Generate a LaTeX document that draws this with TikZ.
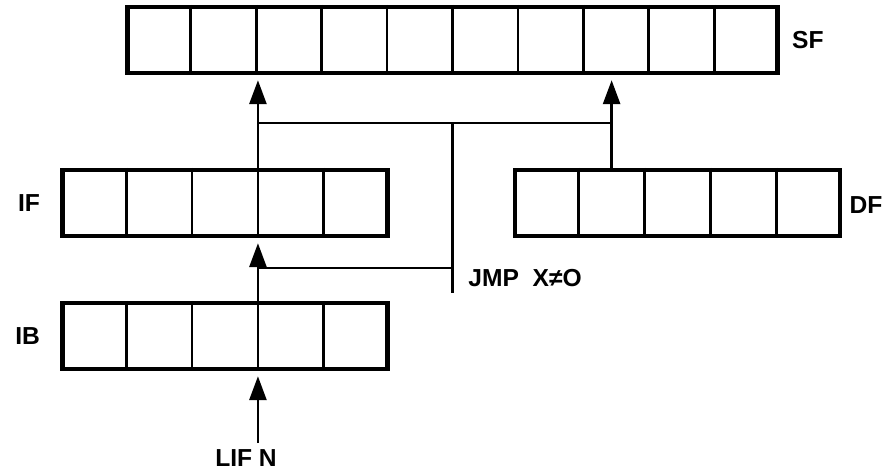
\documentclass[tikz,border=0pt]{standalone}
\usepackage{fontspec}
\setmainfont{Liberation Sans}
\usetikzlibrary{arrows.meta,positioning,calc}

\begin{document}
\begin{tikzpicture}[
  x=0.5pt, y=-0.5pt,
  font=\bfseries\fontsize{12.3}{14}\selectfont,
  reg/.style={
    draw,
    line width=2.2pt,
    minimum width=#1*32.5pt,
    minimum height=33pt,
    inner sep=0pt
  },
  cellline/.style={
    line width=1.4pt
  },
  regname/.style={
    inner sep=0pt
  },
  flow/.style={
    line width=1.4pt
  },
  flowarrow/.style={
    flow,
    -{Triangle[length=12pt,width=8.5pt]},
    shorten >=2.5pt
  }
]

\useasboundingbox (0,0) rectangle (883,472);

% Registers
\node[reg=10] (sf_reg) at (452.5,40) {};
\node[reg=5] (if_reg) at (225,203) {};
\node[reg=5] (df_reg) at (677.5,203) {};
\node[reg=5] (ib_reg) at (225,336) {};

% Cell dividers
\foreach \r/\n in {sf_reg/10, if_reg/5, df_reg/5, ib_reg/5} {
  \pgfmathtruncatemacro\last{\n-1}
  \foreach \i in {1,...,\last}
    \draw[cellline] ($(\r.north west)!\i/\n!(\r.north east)$)
      -- ($(\r.south west)!\i/\n!(\r.south east)$);
}

% Register names
\node[regname, right=6pt of sf_reg] (sf_name) {SF};
\node[regname, left=10pt of if_reg] (if_name) {IF};
\node[regname, right=3.5pt of df_reg, yshift=-1pt] (df_name) {DF};
\node[regname, left=10pt of ib_reg] (ib_name) {IB};

% Instruction labels
\node[regname, anchor=west] (jmp) at (468,278) {JMP~~X≠O};
\node[regname, inner sep=3pt] (lifn) at (246,458) {LIF N};

% Tap points
\coordinate (if_out) at ($(if_reg.north west)!0.6!(if_reg.north east)$);
\coordinate (df_out) at ($(df_reg.north west)!0.3!(df_reg.north east)$);
\coordinate (if_in) at ($(if_reg.south west)!0.6!(if_reg.south east)$);
\coordinate (ib_out) at ($(ib_reg.north west)!0.6!(ib_reg.north east)$);
\coordinate (ib_in) at ($(ib_reg.south west)!0.6!(ib_reg.south east)$);
\coordinate (sf_bus) at (452.5,123);
\coordinate (jmp_tap) at (452.5,268);
\coordinate (jmp_end) at (452.5,293);

% Transfers into SF
\draw[flowarrow] (if_out) -- (if_out |- sf_reg.south);
\draw[flowarrow] (df_out) -- (df_out |- sf_reg.south);
\draw[flow] (if_out |- sf_bus) -- (df_out |- sf_bus);

% Jump path
\draw[flow] (sf_bus) -- (jmp_end);
\draw[flow] (jmp_tap) -- (if_in |- jmp_tap);

% Fetch path
\draw[flowarrow] (ib_out) -- (if_in);
\draw[flowarrow] (lifn.north -| ib_in) -- (ib_in);

\end{tikzpicture}
\end{document}
